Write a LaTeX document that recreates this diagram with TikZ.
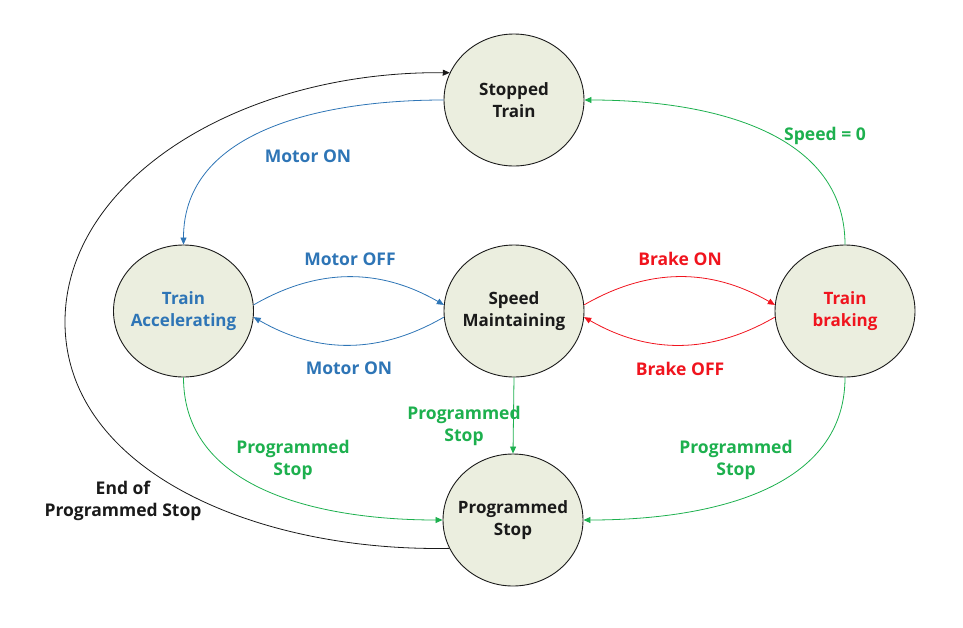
\documentclass[tikz,border=0pt]{standalone}
\usepackage{fontspec}
\setmainfont{Open Sans}
\usetikzlibrary{arrows.meta,shapes.geometric}
\definecolor{cblue}{HTML}{2E75B6}
\definecolor{cred}{HTML}{F0141E}
\definecolor{cgreen}{HTML}{1DB04E}
\definecolor{cfill}{HTML}{EBEEDF}
\definecolor{ctext}{HTML}{1A1A1A}
\begin{document}
\begin{tikzpicture}[x=1pt,y=-1pt,
  state/.style={ellipse,draw=ctext,line width=0.9pt,fill=cfill,minimum width=140pt,minimum height=132pt,inner sep=0pt},
  stxt/.style={align=center,font=\bfseries\fontsize{17}{22}\selectfont,text=#1},
  lbl/.style={align=center,font=\bfseries\fontsize{17.5}{22}\selectfont},
  arr/.style={-{Triangle[length=7pt,width=6pt]},line width=0.8pt}]
\useasboundingbox (0,0) rectangle (963,627);
\node[state,label={[stxt=ctext]center:Stopped\\Train}] (ST) at (514,100) {};
\node[state,label={[stxt=cblue]center:Train\\Accelerating}] (TA) at (183.5,311) {};
\node[state,label={[stxt=ctext]center:Speed\\Maintaining}] (SM) at (514,311) {};
\node[state,label={[stxt=cred]center:Train\\braking}] (TB) at (845,311) {};
\node[state,label={[stxt=ctext]center:Programmed\\Stop}] (PS) at (513,520) {};
\coordinate (bl) at (65,322);
% blue
\draw[arr,cblue] (ST.180) to[out=180,in=90] (TA.90);
\draw[arr,cblue] (TA.5) to[bend left=30] (SM.175);
\draw[arr,cblue] (SM.185) to[bend left=30] (TA.355);
% red
\draw[arr,cred] (SM.5) to[bend left=30] (TB.175);
\draw[arr,cred] (TB.185) to[bend left=30] (SM.355);
% green
\draw[arr,cgreen] (TB.90) to[out=90,in=0] (ST.0);
\draw[arr,cgreen] (TA.270) to[out=270,in=180] (PS.180);
\draw[arr,cgreen] (SM.270) -- (PS.90);
\draw[arr,cgreen] (TB.270) to[out=270,in=0] (PS.0);
% black
\draw[arr,ctext] (PS.204) .. controls (255,552) and (65,470) .. (bl) .. controls (65,180) and (240,71) .. (ST.157);
% labels
\node[lbl,text=cblue] (l1) at (308,156) {Motor ON};
\node[lbl,text=cblue] (l2) at (350,259) {Motor OFF};
\node[lbl,text=cblue] (l3) at (349,368) {Motor ON};
\node[lbl,text=cred] (l4) at (680,259) {Brake ON};
\node[lbl,text=cred] (l5) at (680,369) {Brake OFF};
\node[lbl,text=cgreen] (l6) at (825,136) {Speed = 0};
\node[lbl,text=cgreen] (l7) at (293,460) {Programmed\\Stop};
\node[lbl,text=cgreen] (l8) at (464,426) {Programmed\\Stop};
\node[lbl,text=cgreen] (l9) at (736,460) {Programmed\\Stop};
\node[lbl,text=ctext] (l10) at (123,501) {End of\\Programmed Stop};
\end{tikzpicture}
\end{document}
